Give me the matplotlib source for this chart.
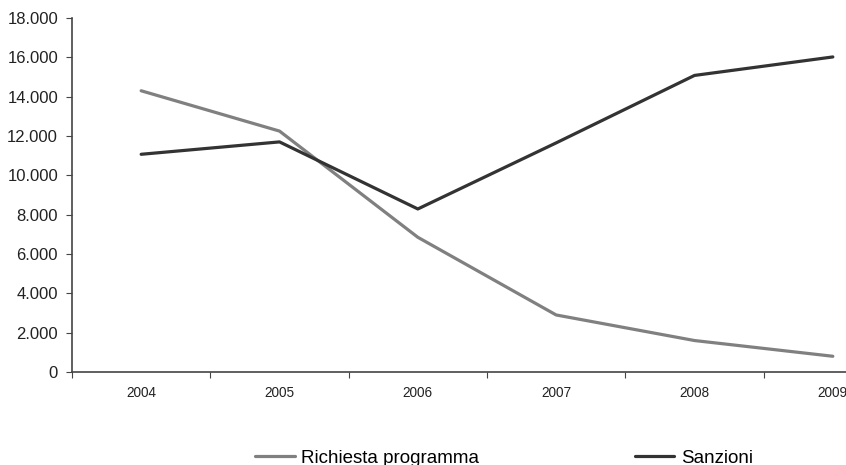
import matplotlib
matplotlib.use("Agg")
import matplotlib.pyplot as plt
from matplotlib.ticker import FuncFormatter

years = ["2004", "2005", "2006", "2007", "2008", "2009"]
richiesta = [14300, 12250, 6850, 2900, 1600, 800]
sanzioni = [11070, 11700, 8290, 11650, 15080, 16020]
series_names = ["Richiesta programma", "Sanzioni"]

plt.rcParams['font.family'] = ['Liberation Sans', 'DejaVu Sans']

W, H = 846, 465
fig = plt.figure(figsize=(W / 100, H / 100), dpi=100)
left_px, right_px = 72, 902
top_px, bot_px = 18, 372
ax = fig.add_axes([left_px / W, 1 - bot_px / H, (right_px - left_px) / W, (bot_px - top_px) / H])

x = list(range(len(years)))
l1, = ax.plot(x, richiesta, color="#808080", lw=2.3, solid_joinstyle="round", solid_capstyle="round")
l2, = ax.plot(x, sanzioni, color="#333333", lw=2.3, solid_joinstyle="round", solid_capstyle="round")

ax.set_xlim(-0.5, len(years) - 0.5)
ax.set_ylim(0, 18000)
ax.set_yticks(range(0, 18001, 2000))
ax.yaxis.set_major_formatter(FuncFormatter(lambda v, p: f"{int(v):,}".replace(",", ".")))
ax.set_xticks([i - 0.5 for i in range(len(years) + 1)])
ax.set_xticklabels([])
ax.set_xticks(x, minor=True)
ax.set_xticklabels(years, minor=True)
ax.tick_params(axis='x', which='minor', length=0, labelsize=9.8, pad=10, colors="#222222")
ax.tick_params(axis='x', which='major', length=4, direction='out', color="#444444")
ax.tick_params(axis='y', length=4, direction='out', labelsize=12, color="#444444", labelcolor="#222222", pad=6)

for s in ["top", "right"]:
    ax.spines[s].set_visible(False)
for s in ["left", "bottom"]:
    ax.spines[s].set_color("#444444")
    ax.spines[s].set_linewidth(1.2)

fig.legend([l1, l2], series_names, loc="center", bbox_to_anchor=(0.596, 0.014),
           ncol=2, frameon=False, fontsize=13.5, handlelength=2.1, handletextpad=0.35,
           columnspacing=8.3, borderpad=0, borderaxespad=0)

fig.savefig("out.png", dpi=100)
